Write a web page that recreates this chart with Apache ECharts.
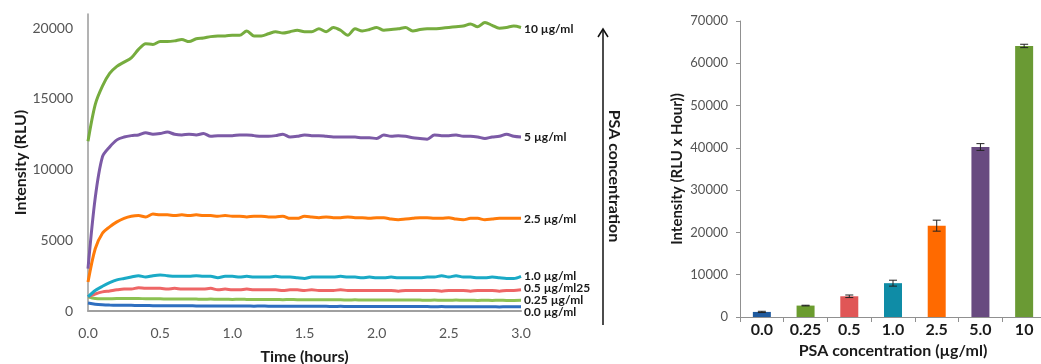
<!DOCTYPE html>
<html>
<head>
<meta charset="utf-8">
<title>PSA</title>
<script src="https://cdn.jsdelivr.net/npm/echarts@6/dist/echarts.min.js"></script>
<style>
  html, body { margin: 0; padding: 0; background: #fff; }
  #chart { width: 1041px; height: 364px; }
</style>
</head>
<body>
<div id="chart"></div>
<script>
// 时间 (hours)
var times = [0, 0.05, 0.1, 0.15, 0.2, 0.25, 0.3, 0.35, 0.4, 0.45,
  0.5, 0.55, 0.6, 0.65, 0.7, 0.75, 0.8, 0.85, 0.9, 0.95,
  1.0, 1.05, 1.1, 1.15, 1.2, 1.25, 1.3, 1.35, 1.4, 1.45,
  1.5, 1.55, 1.6, 1.65, 1.7, 1.75, 1.8, 1.85, 1.9, 1.95,
  2.0, 2.05, 2.1, 2.15, 2.2, 2.25, 2.3, 2.35, 2.4, 2.45,
  2.5, 2.55, 2.6, 2.65, 2.7, 2.75, 2.8, 2.85, 2.9, 2.95, 3.0];

var green10 = [12000, 14600, 15900, 16800, 17300, 17600, 17900, 18500, 18900, 18850,
  19050, 19050, 19100, 19200, 19050, 19250, 19300, 19400, 19450, 19450,
  19500, 19500, 19800, 19450, 19450, 19600, 19750, 19650, 19750, 19850,
  19750, 19750, 19950, 19750, 20050, 19850, 19500, 19950, 19800, 19900,
  20050, 19850, 19900, 19950, 20050, 19800, 19900, 19950, 19950, 20000,
  20050, 20100, 20150, 20300, 20100, 20400, 20200, 20000, 20050, 20150, 20050];
var purple5 = [3000, 8000, 10900, 11600, 12100, 12300, 12400, 12450, 12600, 12500,
  12550, 12650, 12500, 12450, 12500, 12450, 12550, 12350, 12400, 12400,
  12400, 12450, 12450, 12400, 12350, 12350, 12400, 12500, 12300, 12350,
  12450, 12400, 12400, 12350, 12300, 12300, 12300, 12300, 12250, 12250,
  12200, 12450, 12350, 12400, 12350, 12250, 12200, 12150, 12450, 12400,
  12400, 12450, 12350, 12350, 12300, 12200, 12300, 12350, 12500, 12350, 12300];
var orange25 = [2050, 4400, 5500, 5950, 6300, 6550, 6700, 6750, 6650, 6850,
  6800, 6800, 6750, 6800, 6750, 6800, 6750, 6750, 6700, 6750,
  6700, 6700, 6650, 6700, 6700, 6650, 6650, 6700, 6550, 6550,
  6700, 6650, 6600, 6650, 6600, 6600, 6650, 6600, 6600, 6550,
  6600, 6600, 6500, 6450, 6500, 6550, 6600, 6600, 6550, 6550,
  6600, 6500, 6450, 6550, 6550, 6450, 6500, 6550, 6550, 6550, 6550];
var cyan10 = [1000, 1450, 1750, 2000, 2200, 2300, 2400, 2500, 2400, 2500,
  2550, 2500, 2450, 2450, 2450, 2500, 2450, 2450, 2350, 2450,
  2450, 2400, 2450, 2400, 2400, 2400, 2450, 2400, 2400, 2350,
  2300, 2400, 2400, 2400, 2400, 2450, 2400, 2400, 2350, 2400,
  2350, 2350, 2400, 2350, 2350, 2350, 2350, 2400, 2400, 2500,
  2400, 2500, 2400, 2400, 2350, 2350, 2400, 2350, 2300, 2300, 2450];
var red05 = [1000, 1200, 1350, 1420, 1500, 1550, 1550, 1650, 1600, 1600,
  1600, 1550, 1600, 1550, 1550, 1550, 1550, 1600, 1500, 1550,
  1500, 1500, 1550, 1500, 1500, 1500, 1500, 1450, 1500, 1500,
  1450, 1500, 1450, 1450, 1450, 1500, 1450, 1450, 1450, 1450,
  1450, 1450, 1450, 1400, 1450, 1450, 1450, 1450, 1450, 1400,
  1450, 1450, 1450, 1400, 1450, 1450, 1450, 1400, 1450, 1450, 1500];
var green025 = [1000, 880, 860, 870, 880, 880, 890, 880, 870, 860,
  860, 850, 850, 840, 850, 840, 830, 840, 830, 830,
  820, 830, 820, 810, 820, 810, 810, 800, 810, 800,
  800, 790, 800, 790, 790, 790, 780, 790, 780, 780,
  780, 770, 780, 770, 770, 780, 770, 760, 770, 760,
  760, 770, 760, 760, 750, 760, 750, 760, 750, 750, 760];
var blue00 = [560, 480, 440, 420, 410, 400, 400, 390, 390, 380,
  380, 380, 370, 370, 370, 360, 360, 360, 360, 350,
  350, 350, 350, 340, 350, 340, 340, 340, 340, 330,
  330, 330, 330, 330, 320, 330, 320, 320, 320, 320,
  320, 310, 320, 310, 310, 310, 310, 310, 300, 310,
  300, 300, 300, 300, 300, 300, 300, 290, 300, 300, 300];

var lineLabels = ['10 µg/ml', '5 µg/ml', '2.5 µg/ml', '1.0 µg/ml', '0.5 µg/ml25', '0.25 µg/ml', '0.0 µg/ml'];
var lineData = [green10, purple5, orange25, cyan10, red05, green025, blue00];
var lineColors = ['#76ac3e', '#7c5aa6', '#ff7b0a', '#1aaac6', '#ee6666', '#8cc152', '#2f6fc0'];
var labelShift = [2, 0, 1, 0, -2, 0, 5];

// 柱状图数据
var concLabels = ['0.0', '0.25', '0.5', '1.0', '2.5', '5.0', '10'];
var areaValues = [1200, 2700, 4900, 8000, 21600, 40200, 64100];
var areaErrors = [150, 80, 300, 700, 1300, 800, 400];
var barColors = ['#1f5a9e', '#6b9c2f', '#e05656', '#0f8ca6', '#ff6a00', '#684a80', '#6a9a34'];

var FONT = 'Lato';

function pairs(arr) {
  return arr.map(function(v, i) { return [times[i], v]; });
}

// 不要千分位
function plain(v) {
  return String(v);
}

var lineSeries = lineData.map(function(arr, k) {
  return {
    name: lineLabels[k],
    type: 'line',
    xAxisIndex: 0,
    yAxisIndex: 0,
    data: pairs(arr),
    smooth: 0.3,
    showSymbol: false,
    lineStyle: { width: 3, color: lineColors[k] },
    itemStyle: { color: lineColors[k] },
    z: 10 - k,
    endLabel: {
      show: true,
      formatter: '{a}',
      distance: 3,
      offset: [0, labelShift[k]],
      fontFamily: FONT,
      fontWeight: 'bold',
      fontSize: 12,
      color: '#1a1a1a',
    },
    animation: false,
  };
});

var option = {
  animation: false,
  textStyle: { fontFamily: FONT },
  grid: [
    { left: 88, top: 14, width: 433, height: 297, outerBoundsMode: 'none' },
    { left: 740, top: 21, width: 306, height: 296, outerBoundsMode: 'none' },
  ],
  xAxis: [{
    gridIndex: 0,
    type: 'value',
    min: 0,
    max: 3,
    interval: 0.5,
    name: 'Time (hours)',
    nameLocation: 'middle',
    nameGap: 38,
    nameTextStyle: { fontFamily: FONT, fontSize: 16, fontWeight: 'bold', color: '#1a1a1a' },
    axisLine: { lineStyle: { color: '#a0a0a0', width: 2 } },
    axisTick: { show: false },
    splitLine: { show: false },
    axisLabel: {
      margin: 15,
      fontFamily: FONT,
      fontSize: 14,
      color: '#555',
      formatter: function(v) { return v.toFixed(1); },
    },
  }, {
    gridIndex: 1,
    type: 'category',
    data: concLabels,
    name: 'PSA concentration (µg/ml)',
    nameLocation: 'middle',
    nameGap: 22,
    nameTextStyle: { fontFamily: FONT, fontSize: 16, fontWeight: 'bold', color: '#1a1a1a' },
    axisLine: { lineStyle: { color: '#909090', width: 1 } },
    axisTick: { show: true, length: 5, lineStyle: { color: '#909090' } },
    axisLabel: {
      margin: 5,
      interval: 0,
      fontFamily: FONT,
      fontSize: 16,
      fontWeight: 'bold',
      color: '#1a1a1a',
    },
  }],
  yAxis: [{
    gridIndex: 0,
    type: 'value',
    min: 0,
    max: 21000,
    interval: 5000,
    name: 'Intensity (RLU)',
    nameLocation: 'middle',
    nameGap: 58,
    nameTextStyle: { fontFamily: FONT, fontSize: 16, fontWeight: 'bold', color: '#1a1a1a' },
    axisLine: { show: true, lineStyle: { color: '#9a9a9a', width: 1.5 } },
    axisTick: { show: false },
    splitLine: { show: false },
    axisLabel: {
      showMaxLabel: false,
      margin: 15,
      fontFamily: FONT,
      fontSize: 14,
      color: '#555',
      formatter: plain,
    },
  }, {
    gridIndex: 1,
    type: 'value',
    min: 0,
    max: 70000,
    interval: 10000,
    name: 'Intensity (RLU x Hour))',
    nameLocation: 'middle',
    nameGap: 55,
    nameTextStyle: { fontFamily: FONT, fontSize: 15, fontWeight: 'bold', color: '#1a1a1a' },
    axisLine: { show: true, lineStyle: { color: '#909090', width: 1 } },
    axisTick: { show: true, inside: false, length: 4, lineStyle: { color: '#909090' } },
    splitLine: { show: false },
    axisLabel: {
      margin: 12,
      fontFamily: FONT,
      fontSize: 13,
      color: '#555',
      formatter: plain,
    },
  }],
  graphic: [
    // PSA 浓度箭头
    {
      type: 'line',
      shape: { x1: 603, y1: 325, x2: 603, y2: 29 },
      style: { stroke: '#111', lineWidth: 1.5 },
    },
    {
      type: 'polyline',
      shape: { points: [[598, 37], [603, 29], [608, 37]] },
      style: { stroke: '#111', lineWidth: 1.5, fill: null },
    },
    {
      type: 'text',
      x: 614,
      y: 176,
      rotation: -Math.PI / 2,
      style: {
        text: 'PSA concentration',
        fontFamily: FONT,
        fontSize: 16,
        fontWeight: 'bold',
        fill: '#1a1a1a',
        align: 'center',
        verticalAlign: 'middle',
      },
    },
  ],
  series: lineSeries.concat([
    {
      type: 'bar',
      xAxisIndex: 1,
      yAxisIndex: 1,
      barWidth: 18,
      data: areaValues.map(function(v, i) {
        return { value: v, itemStyle: { color: barColors[i] } };
      }),
    },
    {
      type: 'custom',
      xAxisIndex: 1,
      yAxisIndex: 1,
      z: 5,
      data: areaValues.map(function(v, i) { return [i, v - areaErrors[i], v + areaErrors[i]]; }),
      renderItem: function(params, api) {
        var lo = api.coord([api.value(0), api.value(1)]);
        var hi = api.coord([api.value(0), api.value(2)]);
        var w = 4;
        var st = { stroke: '#222', lineWidth: 1 };
        return {
          type: 'group',
          children: [
            { type: 'line', shape: { x1: lo[0], y1: lo[1], x2: hi[0], y2: hi[1] }, style: st },
            { type: 'line', shape: { x1: lo[0] - w, y1: lo[1], x2: lo[0] + w, y2: lo[1] }, style: st },
            { type: 'line', shape: { x1: hi[0] - w, y1: hi[1], x2: hi[0] + w, y2: hi[1] }, style: st },
          ],
        };
      },
    },
  ]),
};

var myChart = echarts.init(document.getElementById('chart'));
myChart.setOption(option);
</script>
</body>
</html>
